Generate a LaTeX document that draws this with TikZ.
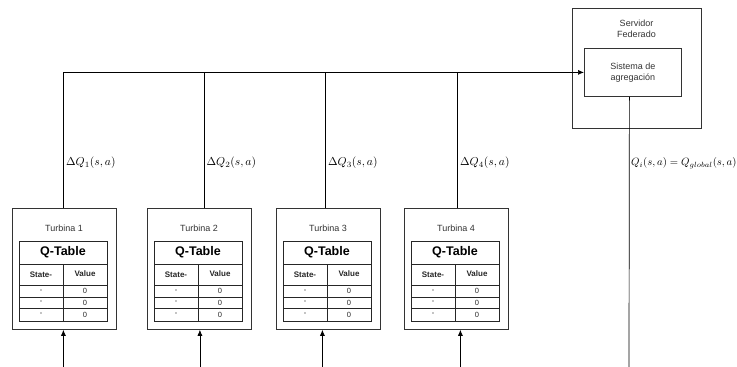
\documentclass[tikz,border=0pt]{standalone}
\usepackage[no-math]{fontspec}
\setmainfont{Liberation Sans}
\usetikzlibrary{arrows.meta}

\tikzset{
  caja/.style={draw=black!80, line width=0.8pt, inner sep=0pt},
  celda/.style={draw=black!85, line width=0.7pt},
  flecha/.style={-{Latex[length=6pt,width=5pt]}, line width=0.7pt},
  linea/.style={line width=0.7pt},
  rotulo/.style={font=\fontsize{9}{11}\selectfont, text=black!80, align=center},
  etiq/.style={anchor=west, inner sep=0pt, scale=1.15}
}

\begin{document}
\begin{tikzpicture}[x=1pt, y=-1pt]
        \useasboundingbox (0,0) rectangle (737,367);
        % servidor federado
        \node[caja, minimum width=129pt, minimum height=120pt, anchor=north west] (srv) at (572,8) {};
        \node[rotulo] (srvtxt) at (636.5,29) {Servidor\\Federado};
        \node[caja, minimum width=97pt, minimum height=48pt, anchor=north west, rotulo] (agg) at (584,48) {Sistema de\\agregaci\'on};
        \coordinate (salida) at (629,367);
        \draw[linea] ([xshift=-3.5pt]agg.south) -- (salida);
        \node[etiq, scale=0.93] (lglobal) at (631,163) {$Q_i(s,a) = Q_{global}(s,a)$};
        % turbinas
        \foreach \i/\x/\dt/\db in {1/12/-1/-1, 2/147/4.5/0.5, 3/276/-3/-6, 4/404/1/4} {
          \node[caja, minimum width=104pt, minimum height=121pt, anchor=north west] (t\i) at (\x,208) {};
          \node[rotulo] (t\i txt) at (\x+52,228) {Turbina \i};
          % Q-Table
          \draw[celda] (\x+7,241) rectangle (\x+95,321);
          \draw[celda] (\x+7,264) -- (\x+95,264);
          \draw[celda] (\x+7,285) -- (\x+95,285);
          \draw[celda] (\x+7,297) -- (\x+95,297);
          \draw[celda] (\x+7,308.5) -- (\x+95,308.5);
          \draw[celda] (\x+51,264) -- (\x+51,321);
          \node[font=\fontsize{12.5}{14}\selectfont\bfseries] (qt\i) at (\x+51,252.5) {Q-Table};
          \node[font=\fontsize{8}{9}\selectfont\bfseries, text=black!85] (st\i) at (\x+29,275) {State-};
          \node[font=\fontsize{8}{9}\selectfont\bfseries, text=black!85] (va\i) at (\x+73,274) {Value};
          \foreach \y [count=\k] in {291,302.75,314.75} {
            \node[font=\fontsize{7.5}{8}\selectfont, text=black!85] (s\i\k) at (\x+29,\y) {-};
            \node[font=\fontsize{7.5}{8}\selectfont, text=black!85] (v\i\k) at (\x+73,\y) {0};
          }
          % conexiones
          \draw[linea] ([xshift=\dt pt]t\i.north) -- ([xshift=\dt pt]t\i.north |- agg.west);
          \coordinate (ent\i) at ([xshift=\db pt]t\i.south |- salida);
          \draw[flecha] (ent\i) -- ([xshift=\db pt]t\i.south);
          \node[etiq] (dq\i) at ([xshift=\dt pt+2.5pt]t\i.north |- lglobal.west) {$\Delta Q_{\i}(s,a)$};
        }
        \draw[flecha] ([xshift=-1pt]t1.north |- agg.west) -- (agg.west);
\end{tikzpicture}
\end{document}
